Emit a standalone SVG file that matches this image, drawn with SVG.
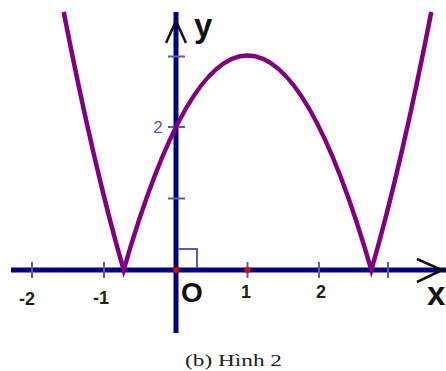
<svg xmlns="http://www.w3.org/2000/svg" width="446" height="371" viewBox="0 0 446 371">
<style>
.axis{stroke:#000080;stroke-width:5;fill:none}
.tick{stroke:#5a5ab0;stroke-width:2;fill:none}
.arrow{stroke:#111;stroke-width:2.5;fill:none;stroke-linejoin:miter}
.curve{stroke:#800080;stroke-width:4.5;fill:none;stroke-linejoin:miter}
.num{font-family:"Liberation Sans",Arial,sans-serif;font-weight:bold;font-size:18px;fill:#222;text-anchor:middle}
.lbl{font-family:"Liberation Sans",Arial,sans-serif;font-weight:bold;fill:#111}
.dot{fill:#e00000}
</style>
<rect width="446" height="371" fill="#ffffff"/>
<g id="connectors">
<g id="x-axis">
<line class="axis" x1="11" y1="270" x2="446" y2="270"/>
<polyline class="arrow" points="417,259 442,270 417,282"/>
</g>
<g id="y-axis">
<line class="axis" x1="176" y1="12" x2="176" y2="333"/>
<polyline class="arrow" points="166,43 176,21 186,43"/>
</g>
<g id="ticks">
<line class="tick" x1="32" y1="262" x2="32" y2="278"/>
<line class="tick" x1="104" y1="262" x2="104" y2="278"/>
<line class="tick" x1="247.5" y1="262" x2="247.5" y2="278"/>
<line class="tick" x1="319" y1="262" x2="319" y2="278"/>
<line class="tick" x1="388" y1="262" x2="388" y2="278"/>
<line class="tick" x1="168" y1="56.5" x2="185" y2="56.5"/>
<line class="tick" x1="168" y1="127" x2="185" y2="127"/>
<line class="tick" x1="168" y1="198.5" x2="185" y2="198.5"/>
<polyline class="tick" points="178,249 197,249 197,268"/>
</g>
</g>
<g id="curve">
<path class="curve" d="M63.7,12 Q93.68,166.15 123.66,270 Q247.5,-159 371.34,270 Q401.32,166.15 431.3,12"/>
</g>
<g id="points">
<circle class="dot" cx="176" cy="270" r="3"/>
<circle class="dot" cx="247.5" cy="270" r="3"/>
</g>
<g id="labels">
<text class="lbl" x="194" y="37" font-size="33">y</text>
<text class="lbl" x="427" y="305" font-size="33">x</text>
<text class="lbl" x="181" y="302" font-size="28">O</text>
<text class="num" x="27" y="305">-2</text>
<text class="num" x="101" y="304">-1</text>
<text class="num" x="246" y="298">1</text>
<text class="num" x="321" y="298">2</text>
<text x="158" y="133" font-family="Liberation Sans,Arial,sans-serif" font-size="17" fill="#5a5ab4" text-anchor="middle">2</text>
<text x="185" y="366" font-family="Liberation Serif,'Times New Roman',serif" font-size="17" fill="#222" textLength="97" lengthAdjust="spacingAndGlyphs">(b) Hình 2</text>
</g>
</svg>
